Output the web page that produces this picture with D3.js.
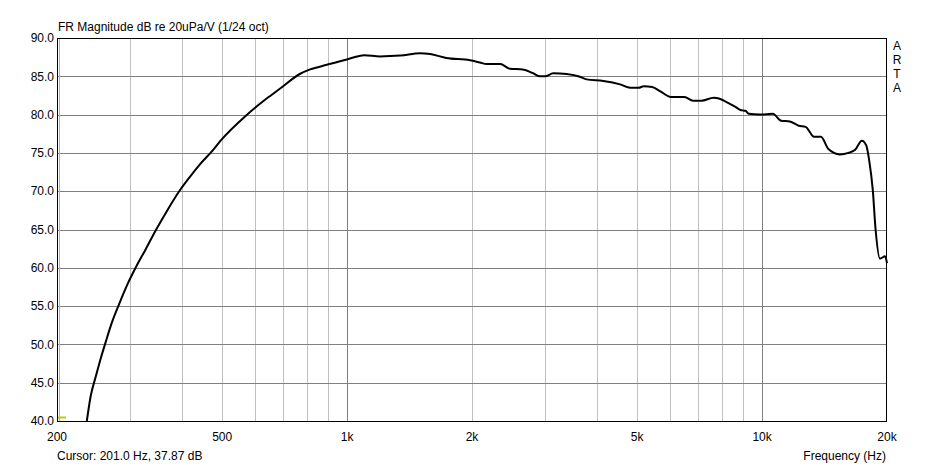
<!DOCTYPE html>
<html><head><meta charset="utf-8">
<script src="https://cdn.jsdelivr.net/npm/d3@7"></script>
<style>
html,body{margin:0;padding:0;background:#fff;}
svg{display:block;font-family:"Liberation Sans",Arial,sans-serif;}
</style></head>
<body><svg id="c" width="943" height="466"></svg>
<script>
const freqs = [236,241,248,255,262,271,282,296,310,327,346,366,394,424,442,474,494,573,640,690,769,815,894,999,1100,1199,1345,1500,1585,1735,1978,2090,2168,2339,2466,2652,2808,2916,3000,3140,3381,3639,3778,4145,4549,4812,5041,5185,5436,5698,6030,6500,6818,7140,7645,7868,8166,8629,8870,9120,9290,9860,10610,11120,11670,12250,12730,13350,13860,14450,15400,16150,16760,17400,17820,18110,18480,18780,19230,19780,20000];
const dbs = [40.0,43.2,45.8,48.2,50.3,52.8,55.2,57.9,60.1,62.4,64.9,67.2,70.0,72.3,73.5,75.3,76.5,79.95,82.1,83.4,85.3,85.9,86.5,87.2,87.75,87.6,87.7,88.0,87.9,87.4,87.1,86.8,86.6,86.6,86.0,85.9,85.4,85.0,85.0,85.4,85.3,84.95,84.6,84.4,83.95,83.5,83.5,83.7,83.6,83.0,82.3,82.3,81.8,81.8,82.2,82.1,81.7,81.0,80.6,80.5,80.1,80.0,80.1,79.2,79.1,78.55,78.4,77.1,77.1,75.5,74.8,75.0,75.4,76.6,76.0,74.1,70.2,64.9,61.2,61.5,60.6];
const yTicks = [40,45,50,55,60,65,70,75,80,85,90];
const xLabelVals = [200,500,1000,2000,5000,10000,20000];
const xLabelText = ["200","500","1k","2k","5k","10k","20k"];
const minorFreqs = [300,400,500,600,700,800,900,2000,3000,4000,5000,6000,7000,8000,9000];
const majorFreqs = [1000,10000];
const titleText = "FR Magnitude dB re 20uPa/V (1/24 oct)";
const cursorText = "Cursor: 201.0 Hz, 37.87 dB";
const xAxisTitle = "Frequency (Hz)";
const brand = ["A","R","T","A"];

const L=57, R=887, T=38, B=421;
const svg = d3.select("#c");
const x = d3.scaleLog().domain([200,20000]).range([L,R]);
const y = d3.scaleLinear().domain([40,90]).range([B,T]);

svg.append("g").selectAll("line").data(minorFreqs).join("line")
  .attr("x1",d=>Math.round(x(d))+0.5).attr("x2",d=>Math.round(x(d))+0.5)
  .attr("y1",T).attr("y2",B).attr("stroke","#c0c0c0").attr("stroke-width",1);
svg.append("g").selectAll("line").data(majorFreqs).join("line")
  .attr("x1",d=>Math.round(x(d))+0.5).attr("x2",d=>Math.round(x(d))+0.5)
  .attr("y1",T).attr("y2",B).attr("stroke","#808080").attr("stroke-width",1);
svg.append("g").selectAll("line").data(yTicks.slice(1,-1)).join("line")
  .attr("x1",L).attr("x2",R)
  .attr("y1",d=>Math.round(y(d))+0.5).attr("y2",d=>Math.round(y(d))+0.5)
  .attr("stroke","#808080").attr("stroke-width",1);

svg.append("line").attr("x1",Math.round(x(201))+1.5).attr("x2",Math.round(x(201))+1.5)
  .attr("y1",T).attr("y2",B).attr("stroke","#c8c800").attr("stroke-width",1);
svg.append("line").attr("x1",L).attr("x2",L+9).attr("y1",B-3.5).attr("y2",B-3.5)
  .attr("stroke","#c8c800").attr("stroke-width",2);

const line = d3.line().x((d,i)=>x(freqs[i])).y(d=>y(d)).curve(d3.curveMonotoneX);
svg.append("path").datum(dbs).attr("d",line).attr("fill","none")
  .attr("stroke","#000").attr("stroke-width",2).attr("stroke-linejoin","round");

svg.append("rect").attr("x",L+0.5).attr("y",T+0.5).attr("width",R-L-1).attr("height",B-T)
  .attr("fill","none").attr("stroke","#000").attr("stroke-width",1);

svg.append("g").selectAll("text").data(yTicks).join("text")
  .attr("x",L-3).attr("y",d=>y(d)).attr("dy","0.35em").attr("text-anchor","end")
  .attr("font-size",12).attr("fill","#000").text(d=>d.toFixed(1));
svg.append("g").selectAll("text").data(xLabelVals).join("text")
  .attr("x",d=>x(d)).attr("y",441).attr("text-anchor","middle")
  .attr("font-size",12).attr("fill","#000").text((d,i)=>xLabelText[i]);

svg.append("text").attr("x",58).attr("y",31).attr("font-size",12).text(titleText);
svg.append("text").attr("x",57).attr("y",460).attr("font-size",12).text(cursorText);
svg.append("text").attr("x",886).attr("y",460).attr("text-anchor","end").attr("font-size",12).text(xAxisTitle);
svg.append("g").selectAll("text").data(brand).join("text")
  .attr("x",897).attr("y",(d,i)=>50+i*14).attr("text-anchor","middle")
  .attr("font-size",12).text(d=>d);
</script></body></html>
